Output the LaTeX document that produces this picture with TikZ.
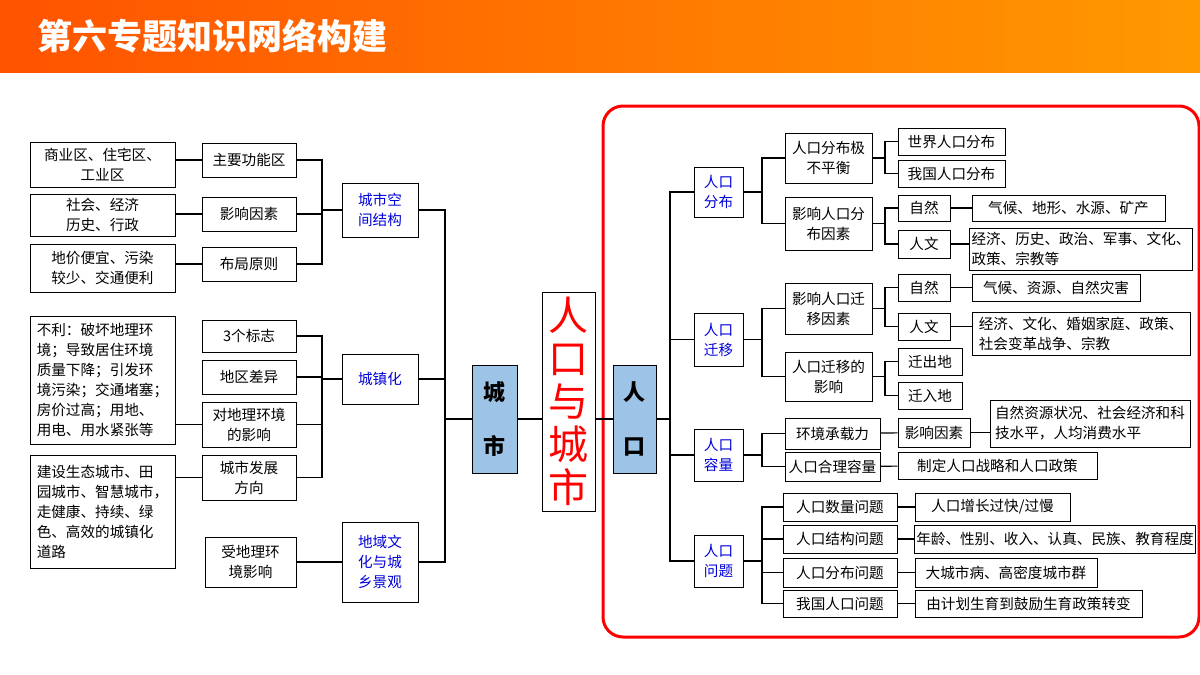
\documentclass[tikz,border=0pt]{standalone}
\usepackage{fontspec}
\setmainfont{Noto Sans CJK SC}
\usetikzlibrary{positioning}
\definecolor{hubblue}{RGB}{157,195,230}

\newcommand\bx[7][]{\node[box,#1,minimum width={(#5-#3)*0.5pt},minimum height={(#6-#4)*0.5pt}] (#2) at ({(#3+#5)/2},{(#4+#6)/2}) {#7};}
\newcommand\forkr[3]{\coordinate (bus) at (#2,0);
  \foreach \c in {#3}{\draw[link] (#1.east) -- (#1.east -| bus) |- (\c.west);}}
\newcommand\forkl[3]{\coordinate (bus) at (#2,0);
  \foreach \c in {#3}{\draw[link] (#1.west) -- (#1.west -| bus) |- (\c.east);}}

\begin{document}
\begin{tikzpicture}
[
x=0.5pt, y=-0.5pt,
box/.style={draw=black, fill=white, inner sep=1pt, align=center, font=\fontsize{7.3}{10}\selectfont},
blu/.style={text=blue!85!black},
hub/.style={fill=hubblue, font=\fontsize{11}{27}\selectfont\bfseries},
link/.style={draw=black, semithick},
]
\useasboundingbox (0,0) rectangle (1200,675);
%Header
\shade[left color=orange!65!red, right color=orange!80!yellow] (0,0) rectangle (1200,72);
\node[text=white, font=\fontsize{17.5}{20}\selectfont\bfseries, anchor=west] (title) at (30,36) {第六专题知识网络构建};
\draw[red, line width=1.5pt, rounded corners=10pt] (603,106) rectangle (1199,637);

%Left side
\bx{l1}{30}{142}{175}{187}{商业区、住宅区、\\工业区}
\bx{l2}{30}{194}{175}{236}{社会、经济\\历史、行政}
\bx{l3}{30}{244}{175}{292}{地价便宜、污染\\较少、交通便利}
\bx[align=left]{l4}{30}{316}{175}{444}{不利：破坏地理环\\境；导致居住环境\\质量下降；引发环\\境污染；交通堵塞；\\房价过高；用地、\\用电、用水紧张等}
\bx[align=left]{l5}{30}{455}{175}{568}{建设生态城市、田\\园城市、智慧城市，\\走健康、持续、绿\\色、高效的城镇化\\道路}
\bx{m1}{202}{143}{296}{177}{主要功能区}
\bx{m2}{202}{197}{296}{231}{影响因素}
\bx{m3}{202}{247}{296}{281}{布局原则}
\bx{m4}{202}{320}{296}{352}{3个标志}
\bx{m5}{202}{360}{296}{394}{地区差异}
\bx{m6}{202}{402}{296}{447}{对地理环境\\的影响}
\bx{m7}{202}{455}{296}{500}{城市发展\\方向}
\bx{m8}{205}{537}{296}{587}{受地理环\\境影响}
\bx[blu]{jg}{342}{183}{418}{237}{城市空\\间结构}
\bx[blu]{czh}{342}{354}{418}{404}{城镇化}
\bx[blu]{dy}{342}{522}{418}{602}{地域文\\化与城\\乡景观}

%Centre
\bx[hub]{city}{472}{365}{517}{473}{城\\市}
\bx[text=red, font=\fontsize{20}{21.5}\selectfont]{rc}{542}{292}{595}{511}{人\\口\\与\\城\\市}
\bx[hub]{rk}{613}{365}{656}{473}{人\\口}

%Right side
\bx[blu]{fb}{694}{167}{743}{217}{人口\\分布}
\bx[blu]{qy}{694}{313}{743}{366}{人口\\迁移}
\bx[blu]{rl}{694}{429}{743}{481}{人口\\容量}
\bx[blu]{wt}{694}{535}{743}{587}{人口\\问题}
\bx{a1}{785}{133}{872}{183}{人口分布极\\不平衡}
\bx{a2}{785}{197}{872}{250}{影响人口分\\布因素}
\bx{a3}{785}{283}{872}{334}{影响人口迁\\移因素}
\bx{a4}{785}{352}{872}{401}{人口迁移的\\影响}
\bx{c1}{785}{418}{880}{449}{环境承载力}
\bx{c2}{785}{452}{880}{481}{人口合理容量}
\bx{p1}{783}{493}{897}{521}{人口数量问题}
\bx{p2}{783}{525}{897}{553}{人口结构问题}
\bx{p3}{783}{558}{897}{587}{人口分布问题}
\bx{p4}{783}{590}{897}{617}{我国人口问题}
\bx{w1}{898}{128}{1005}{155}{世界人口分布}
\bx{w2}{898}{160}{1005}{187}{我国人口分布}
\bx{n1}{898}{195}{950}{221}{自然}
\bx{h1}{898}{230}{950}{258}{人文}
\bx{n2}{898}{274}{950}{301}{自然}
\bx{h2}{898}{313}{950}{340}{人文}
\bx{o1}{898}{348}{962}{375}{迁出地}
\bx{o2}{898}{382}{962}{409}{迁入地}
\bx{yx}{898}{418}{970}{447}{影响因素}
\bx{zd}{898}{452}{1097}{479}{制定人口战略和人口政策}
\bx{q1}{915}{493}{1070}{521}{人口增长过快/过慢}
\bx{q2}{915}{525}{1195}{553}{年龄、性别、收入、认真、民族、教育程度}
\bx{q3}{915}{558}{1097}{587}{大城市病、高密度城市群}
\bx{q4}{915}{590}{1142}{617}{由计划生育到鼓励生育政策转变}
\bx{x1}{972}{195}{1165}{221}{气候、地形、水源、矿产}
\bx[align=left]{x2}{972}{228}{1190}{270}{经济、历史、政治、军事、文化、\\政策、宗教等}
\bx{x3}{972}{274}{1140}{301}{气候、资源、自然灾害}
\bx[align=left]{x4}{972}{312}{1190}{355}{经济、文化、婚姻家庭、政策、\\社会变革战争、宗教}
\bx[align=left]{x5}{990}{400}{1190}{447}{自然资源状况、社会经济和科\\技水平，人均消费水平}

%Lines
\draw[link] (m1.west) -- (m1.west -| l1.east);
\draw[link] (m2.west) -- (m2.west -| l2.east);
\draw[link] (m3.west) -- (m3.west -| l3.east);
\draw[link] (m6.west) -- (m6.west -| l4.east);
\draw[link] (m7.west) -- (m7.west -| l5.east);
\forkl{jg}{322}{m1,m2,m3}
\forkl{czh}{322}{m4,m5,m6,m7}
\draw[link] (dy.west) -- (dy.west -| m8.east);
\forkl{city}{445}{jg,czh,dy}
\draw[link] (city.east) -- (city.east -| rc.west);
\draw[link] (rk.west) -- (rk.west -| rc.east);
\forkr{rk}{670}{fb,qy,rl,wt}
\forkr{fb}{762}{a1,a2}
\forkr{qy}{762}{a3,a4}
\forkr{rl}{762}{c1,c2}
\forkr{wt}{762}{p1,p2,p3,p4}
\forkr{a1}{885}{w1,w2}
\forkr{a2}{885}{n1,h1}
\forkr{a3}{885}{n2,h2}
\forkr{a4}{885}{o1,o2}
\draw[link] (n1) -- (x1);
\draw[link] (h1.east) -- (h1.east -| x2.west);
\draw[link] (n2) -- (x3);
\draw[link] (h2.east) -- (h2.east -| x4.west);
\draw[link] (c1) -- (yx);
\draw[link] (yx.east) -- (yx.east -| x5.west);
\draw[link] (c2) -- (zd);
\foreach \i in {1,...,4}{\draw[link] (p\i) -- (q\i);}
\end{tikzpicture}
\end{document}
